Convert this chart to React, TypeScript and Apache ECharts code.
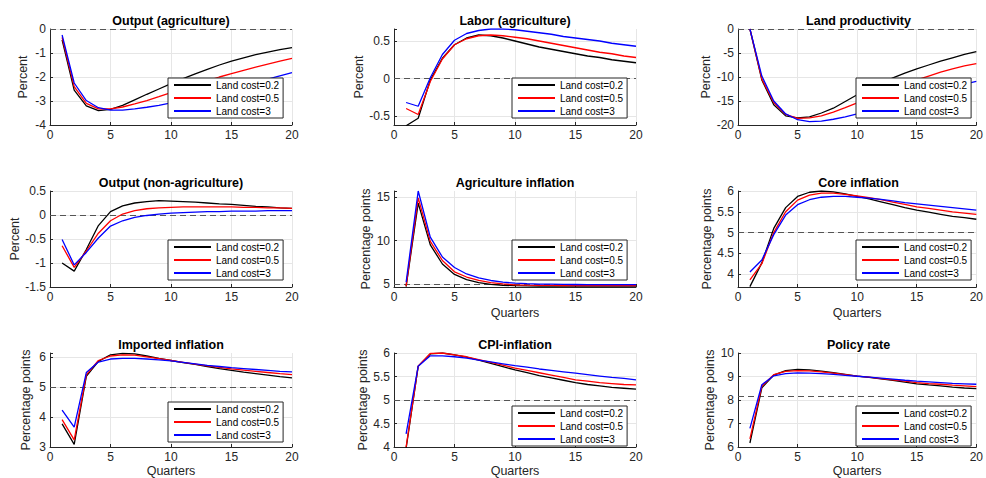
import React, { useEffect, useRef } from "react";
import * as echarts from "echarts";

const quarters = [1, 2, 3, 4, 5, 6, 7, 8, 9, 10, 11, 12, 13, 14, 15, 16, 17, 18, 19, 20];
const seriesNames = ["Land cost=0.2", "Land cost=0.5", "Land cost=3"];
const seriesColors = ["#000000", "#ff0000", "#0000ff"];

const titles = [
  "Output (agriculture)", "Labor (agriculture)", "Land productivity",
  "Output (non-agriculture)", "Agriculture inflation", "Core inflation",
  "Imported inflation", "CPI-inflation", "Policy rate",
];
const yLabels = [
  "Percent", "Percent", "Percent",
  "Percent", "Percentage points", "Percentage points",
  "Percentage points", "Percentage points", "Percentage points",
];
const xLabels = ["", "", "", "", "Quarters", "Quarters", "Quarters", "Quarters", "Quarters"];
const refLines = [0, 0, 0, 0, 5, 5, 5, 5, 8.17];
const yMins = [-4, -0.62, -20, -1.5, 4.65, 3.69, 3, 4, 6];
const yMaxs = [0, 0.66, 0, 0.5, 15.7, 6, 6.13, 6, 10];
const ySteps = [1, 0.5, 5, 0.5, 5, 0.5, 1, 0.5, 1];

// Output (agriculture)
const agriOutBlack = [-0.45, -2.55, -3.2, -3.4, -3.35, -3.18, -2.95, -2.72, -2.5, -2.28, -2.07, -1.87, -1.68, -1.5, -1.34, -1.2, -1.07, -0.96, -0.86, -0.78];
const agriOutRed = [-0.35, -2.4, -3.1, -3.33, -3.33, -3.25, -3.12, -2.98, -2.82, -2.65, -2.48, -2.31, -2.15, -2.0, -1.86, -1.72, -1.59, -1.46, -1.34, -1.22];
const agriOutBlue = [-0.25, -2.25, -2.98, -3.28, -3.38, -3.38, -3.33, -3.26, -3.18, -3.08, -2.97, -2.86, -2.74, -2.62, -2.49, -2.36, -2.22, -2.09, -1.95, -1.82];
// Labor (agriculture)
const laborBlack = [-0.63, -0.53, -0.02, 0.27, 0.45, 0.54, 0.58, 0.57, 0.54, 0.5, 0.46, 0.42, 0.39, 0.36, 0.33, 0.3, 0.28, 0.25, 0.23, 0.21];
const laborRed = [-0.4, -0.48, -0.04, 0.26, 0.45, 0.53, 0.57, 0.58, 0.57, 0.55, 0.53, 0.5, 0.47, 0.44, 0.41, 0.38, 0.35, 0.33, 0.3, 0.28];
const laborBlue = [-0.32, -0.37, 0.01, 0.32, 0.51, 0.6, 0.64, 0.66, 0.66, 0.65, 0.63, 0.61, 0.59, 0.56, 0.54, 0.52, 0.5, 0.47, 0.45, 0.43];
// Land productivity
const landBlack = [0, -10.6, -15.8, -18.1, -18.5, -18.3, -17.5, -16.5, -15.1, -13.7, -12.5, -11.3, -10.2, -9.2, -8.3, -7.5, -6.7, -6.0, -5.3, -4.7];
const landRed = [0, -10.4, -15.3, -17.8, -18.6, -18.5, -18.1, -17.3, -16.4, -15.4, -14.4, -13.4, -12.4, -11.5, -10.6, -9.8, -9.0, -8.3, -7.7, -7.2];
const landBlue = [0, -9.8, -15.0, -17.7, -18.9, -19.3, -19.2, -18.8, -18.3, -17.7, -17.0, -16.3, -15.6, -14.9, -14.2, -13.5, -12.8, -12.2, -11.5, -10.9];
// Output (non-agriculture)
const nonAgriBlack = [-1.0, -1.17, -0.72, -0.22, 0.07, 0.19, 0.25, 0.28, 0.3, 0.29, 0.28, 0.27, 0.25, 0.23, 0.22, 0.2, 0.18, 0.17, 0.15, 0.14];
const nonAgriRed = [-0.64, -1.09, -0.75, -0.38, -0.12, 0.02, 0.09, 0.13, 0.15, 0.16, 0.17, 0.17, 0.17, 0.17, 0.17, 0.16, 0.16, 0.15, 0.15, 0.14];
const nonAgriBlue = [-0.51, -1.04, -0.78, -0.48, -0.23, -0.12, -0.05, -0.01, 0.02, 0.04, 0.05, 0.06, 0.07, 0.07, 0.08, 0.08, 0.08, 0.09, 0.09, 0.09];
// Agriculture inflation
const agriInfBlack = [4.7, 14.3, 9.5, 7.3, 6.1, 5.5, 5.15, 4.95, 4.85, 4.8, 4.77, 4.76, 4.75, 4.75, 4.75, 4.75, 4.75, 4.75, 4.75, 4.75];
const agriInfRed = [4.75, 14.9, 9.9, 7.7, 6.4, 5.8, 5.4, 5.15, 5.0, 4.9, 4.86, 4.84, 4.83, 4.82, 4.82, 4.82, 4.82, 4.82, 4.82, 4.82];
const agriInfBlue = [5.2, 15.7, 10.4, 8.1, 6.9, 6.15, 5.7, 5.4, 5.2, 5.1, 5.03, 4.99, 4.97, 4.95, 4.94, 4.93, 4.93, 4.92, 4.92, 4.92];
// Core inflation
const coreBlack = [3.7, 4.27, 5.1, 5.6, 5.87, 5.97, 6.0, 5.98, 5.93, 5.87, 5.81, 5.74, 5.67, 5.6, 5.54, 5.49, 5.44, 5.39, 5.36, 5.32];
const coreRed = [3.86, 4.25, 5.0, 5.5, 5.78, 5.9, 5.95, 5.95, 5.92, 5.88, 5.84, 5.79, 5.73, 5.68, 5.62, 5.58, 5.54, 5.5, 5.47, 5.44];
const coreBlue = [4.05, 4.34, 4.95, 5.42, 5.67, 5.79, 5.85, 5.87, 5.87, 5.85, 5.83, 5.8, 5.76, 5.72, 5.69, 5.66, 5.63, 5.6, 5.57, 5.54];
// Imported inflation
const impBlack = [3.77, 3.09, 5.35, 5.85, 6.07, 6.12, 6.1, 6.03, 5.95, 5.88, 5.81, 5.75, 5.68, 5.61, 5.55, 5.49, 5.44, 5.39, 5.34, 5.3];
const impRed = [3.91, 3.24, 5.4, 5.88, 6.03, 6.07, 6.06, 6.0, 5.94, 5.88, 5.82, 5.76, 5.7, 5.65, 5.6, 5.56, 5.52, 5.48, 5.44, 5.41];
const impBlue = [4.23, 3.66, 5.48, 5.83, 5.93, 5.95, 5.95, 5.93, 5.9, 5.87, 5.82, 5.77, 5.72, 5.68, 5.64, 5.61, 5.58, 5.55, 5.52, 5.5];
// CPI-inflation
const cpiBlack = [3.97, 5.72, 5.98, 6.0, 5.96, 5.91, 5.85, 5.78, 5.71, 5.64, 5.58, 5.52, 5.47, 5.42, 5.37, 5.33, 5.3, 5.27, 5.25, 5.23];
const cpiRed = [4.0, 5.72, 5.99, 6.0, 5.96, 5.92, 5.86, 5.8, 5.74, 5.68, 5.63, 5.58, 5.53, 5.48, 5.43, 5.4, 5.37, 5.35, 5.33, 5.32];
const cpiBlue = [4.28, 5.72, 5.94, 5.94, 5.92, 5.89, 5.85, 5.81, 5.77, 5.73, 5.7, 5.66, 5.63, 5.6, 5.57, 5.54, 5.51, 5.48, 5.46, 5.43];
// Policy rate
const policyBlack = [6.17, 8.52, 9.06, 9.25, 9.3, 9.28, 9.23, 9.16, 9.09, 9.02, 8.96, 8.9, 8.84, 8.76, 8.69, 8.64, 8.6, 8.55, 8.51, 8.48];
const policyRed = [6.35, 8.58, 9.08, 9.22, 9.25, 9.24, 9.2, 9.14, 9.08, 9.02, 8.97, 8.91, 8.86, 8.8, 8.74, 8.7, 8.67, 8.63, 8.6, 8.57];
const policyBlue = [6.79, 8.65, 9.03, 9.12, 9.15, 9.14, 9.12, 9.09, 9.05, 9.01, 8.97, 8.93, 8.89, 8.84, 8.8, 8.77, 8.74, 8.71, 8.69, 8.67];

const panelData = [
  [agriOutBlack, agriOutRed, agriOutBlue],
  [laborBlack, laborRed, laborBlue],
  [landBlack, landRed, landBlue],
  [nonAgriBlack, nonAgriRed, nonAgriBlue],
  [agriInfBlack, agriInfRed, agriInfBlue],
  [coreBlack, coreRed, coreBlue],
  [impBlack, impRed, impBlue],
  [cpiBlack, cpiRed, cpiBlue],
  [policyBlack, policyRed, policyBlue],
];

// layout
const colLefts = [50, 394, 738];
const colWidths = [242, 242, 241];
const rowTops = [29, 191, 353];
const rowHeights = [96, 96, 97];
const xNameGaps = [19, 19, 17];
const yNameGaps = [21, 28, 25, 28, 21, 24, 18, 24, 21];
const legendPos = [
  [168, 78], [512, 78], [856, 78],
  [168, 240], [512, 240], [856, 240],
  [168, 402], [512, 406], [856, 406],
];

const FONT = "'Liberation Sans', Arial, Helvetica, sans-serif";

function isMultiple(v: number, step: number) {
  const r = v / step;
  return Math.abs(r - Math.round(r)) < 1e-6;
}

export default function App() {
  const ref = useRef<HTMLDivElement>(null);
  useEffect(() => {
    if (!ref.current) return;
    const chart = echarts.init(ref.current, undefined, { renderer: "svg" });
    const grid: any[] = [];
    const xAxis: any[] = [];
    const yAxis: any[] = [];
    const series: any[] = [];
    const title: any[] = [];
    const legend: any[] = [];
    for (let i = 0; i < 9; i++) {
      const r = Math.floor(i / 3);
      const c = i % 3;
      grid.push({ left: colLefts[c], top: rowTops[r], width: colWidths[c], height: rowHeights[r], containLabel: false });
      title.push({
        text: titles[i],
        left: colLefts[c] + colWidths[c] / 2,
        top: rowTops[r] - 15,
        textAlign: "center",
        padding: 0,
        textStyle: { fontFamily: FONT, fontSize: 12.5, fontWeight: "bold", color: "#000" },
      });
      xAxis.push({
        type: "value",
        gridIndex: i,
        min: 0,
        max: 20,
        interval: 5,
        name: xLabels[i],
        nameLocation: "middle",
        nameGap: xNameGaps[r],
        nameTextStyle: { fontFamily: FONT, fontSize: 12.5, color: "#262626" },
        axisLine: { show: true, onZero: false, lineStyle: { color: "#262626", width: 1 } },
        axisTick: { show: true, inside: true, length: 3, lineStyle: { color: "#262626" } },
        axisLabel: { fontFamily: FONT, fontSize: 12, color: "#262626", margin: 4 },
        splitLine: { show: true, showMinLine: false, lineStyle: { color: "#e6e6e6", width: 1 } },
      });
      const step = ySteps[i];
      const yMin = yMins[i];
      const yMax = yMaxs[i];
      yAxis.push({
        type: "value",
        gridIndex: i,
        min: yMin,
        max: yMax,
        minInterval: step,
        maxInterval: step,
        name: yLabels[i],
        nameLocation: "middle",
        nameGap: yNameGaps[i],
        nameTextStyle: { fontFamily: FONT, fontSize: 12.5, color: "#262626" },
        axisLine: { show: true, onZero: false, lineStyle: { color: "#262626", width: 1 } },
        axisTick: { show: true, inside: true, length: 3, lineStyle: { color: "#262626" } },
        axisLabel: {
          fontFamily: FONT,
          fontSize: 12,
          color: "#262626",
          margin: 4,
          formatter: (v: number) => (isMultiple(v, step) ? String(Math.round(v * 100) / 100) : ""),
        },
        splitLine: {
          show: true,
          showMinLine: false,
          showMaxLine: isMultiple(yMax, step),
          lineStyle: { color: "#e6e6e6", width: 1 },
        },
      });
      for (let s = 0; s < 3; s++) {
        const vals = panelData[i][s];
        const item: any = {
          type: "line",
          name: seriesNames[s],
          xAxisIndex: i,
          yAxisIndex: i,
          data: quarters.map((q, j) => [q, vals[j]]),
          symbol: "none",
          showSymbol: false,
          clip: true,
          lineStyle: { color: seriesColors[s], width: 1.3 },
          itemStyle: { color: seriesColors[s] },
          z: 3 + s,
        };
        if (s === 0) {
          item.markLine = {
            silent: true,
            symbol: "none",
            label: { show: false },
            lineStyle: { color: "#555", type: [6, 4], width: 1 },
            data: [{ yAxis: refLines[i] }],
            z: 2,
          };
        }
        series.push(item);
      }
      legend.push({
        left: legendPos[i][0],
        top: legendPos[i][1],
        orient: "vertical",
        data: seriesNames,
        itemWidth: 37,
        itemHeight: 2,
        itemGap: 1,
        padding: [1, 4, 1, 5],
        backgroundColor: "#ffffff",
        borderColor: "#262626",
        borderWidth: 1,
        selectedMode: false,
        textStyle: { fontFamily: FONT, fontSize: 10, color: "#000", lineHeight: 12 },
        z: 10,
      });
    }
    chart.setOption({
      animation: false,
      backgroundColor: "#ffffff",
      title,
      legend,
      grid,
      xAxis,
      yAxis,
      series,
    });
    return () => chart.dispose();
  }, []);
  return (
    <div
      ref={ref}
      style={{ position: "absolute", left: 0, top: 0, width: 986, height: 478 }}
    />
  );
}
